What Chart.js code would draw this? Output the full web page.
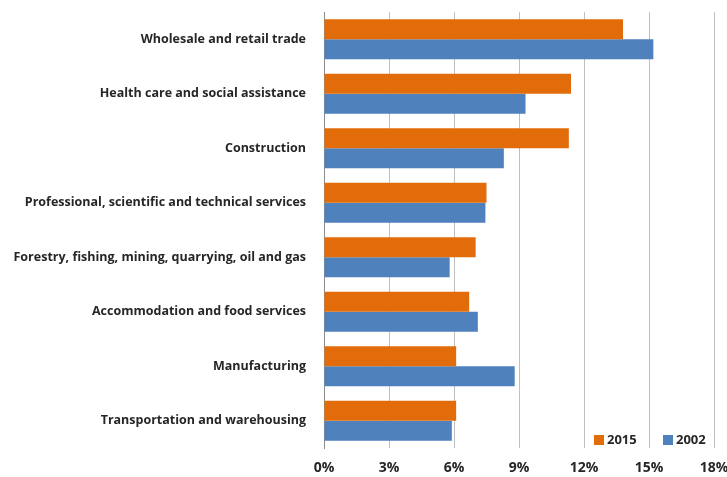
<!DOCTYPE html>
<html>
<head>
<meta charset="utf-8">
<script src="https://cdn.jsdelivr.net/npm/chart.js@4/dist/chart.umd.min.js"></script>
<style>
  html, body { margin: 0; padding: 0; background: #fff; }
  #wrap { width: 727px; height: 477px; position: relative; }
</style>
</head>
<body>
<div id="wrap"><canvas id="industryChart"></canvas></div>
<script>
const industries = [
  "Wholesale and retail trade",
  "Health care and social assistance",
  "Construction",
  "Professional, scientific and technical services",
  "Forestry, fishing, mining, quarrying, oil and gas",
  "Accommodation and food services",
  "Manufacturing",
  "Transportation and warehousing",
];
const share2015 = [13.8, 11.4, 11.3, 7.5, 7.0, 6.7, 6.1, 6.1];
const share2002 = [15.2, 9.3, 8.3, 7.45, 5.8, 7.1, 8.8, 5.9];
const seriesNames = ["2015", "2002"];
const xMax = 18;
const xStep = 3;

const ORANGE = "#E36C0A";
const BLUE = "#4F81BD";
const TEXT = "#262626";
const FONT = "'Open Sans', 'DejaVu Sans', sans-serif";

// small legend drawn inside the plot, bottom-right corner
const cornerLegend = {
  id: "cornerLegend",
  afterDraw(chart) {
    const { ctx, chartArea } = chart;
    const y = chartArea.bottom - 8;
    const items = chart.data.datasets.map((ds) => ({ label: ds.label, color: ds.backgroundColor }));
    const starts = [chartArea.right - 120, chartArea.right - 51];
    ctx.save();
    ctx.font = "bold 13px " + FONT;
    ctx.textBaseline = "middle";
    items.forEach((item, i) => {
      const x = starts[i];
      ctx.fillStyle = item.color;
      ctx.fillRect(x, y - 5, 10, 10);
      ctx.fillStyle = TEXT;
      ctx.fillText(item.label, x + 13, y + 0.5);
    });
    ctx.restore();
  },
};

new Chart(document.getElementById("industryChart"), {
  type: "bar",
  data: {
    labels: industries,
    datasets: [
      { label: seriesNames[0], data: share2015, backgroundColor: ORANGE },
      { label: seriesNames[1], data: share2002, backgroundColor: BLUE },
    ],
  },
  options: {
    indexAxis: "y",
    responsive: true,
    maintainAspectRatio: false,
    animation: false,
    layout: { padding: { top: 12, left: 0, right: 0, bottom: 0 } },
    datasets: { bar: { categoryPercentage: 0.734, barPercentage: 1.0 } },
    plugins: { legend: { display: false }, tooltip: { enabled: false } },
    scales: {
      x: {
        min: 0,
        max: xMax,
        ticks: {
          stepSize: xStep,
          padding: 12,
          color: TEXT,
          font: { family: FONT, size: 14, weight: "bold" },
          callback: (v) => v + "%",
        },
        grid: {
          drawTicks: false,
          color: (c) => (c.tick && c.tick.value === 0 ? "#8C8C8C" : "#BFBFBF"),
          lineWidth: 1,
        },
        border: { display: false },
        afterFit(scale) {
          scale.height = 29;
          scale.paddingRight = 13;
          scale.paddingLeft = 0;
        },
      },
      y: {
        ticks: {
          padding: 18,
          color: TEXT,
          font: { family: FONT, size: 12.5, weight: "bold" },
        },
        grid: { display: false, drawTicks: false },
        border: { display: true, color: "#8C8C8C", width: 1 },
        afterFit(scale) {
          scale.width = 324;
          scale.paddingTop = 0;
          scale.paddingBottom = 0;
        },
      },
    },
  },
  plugins: [cornerLegend],
});
</script>
</body>
</html>
